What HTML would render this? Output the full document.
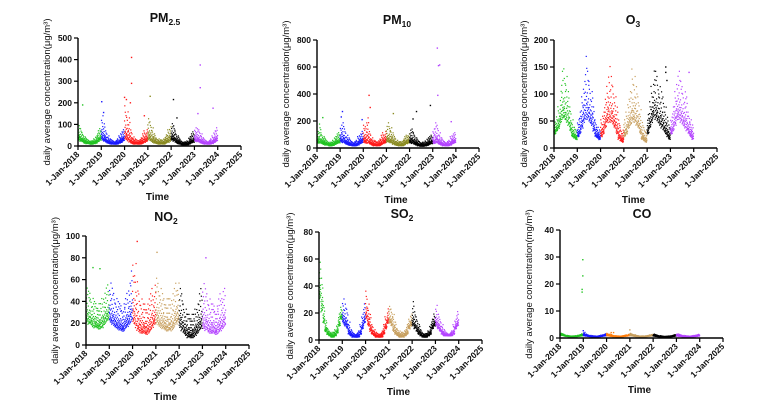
<!DOCTYPE html>
<html><head><meta charset="utf-8">
<style>
body{margin:0;background:#fff;width:776px;height:417px;overflow:hidden}
svg{display:block}
text{font-family:"Liberation Sans",sans-serif;fill:#111}
.tk{font-size:8.5px;font-weight:bold}
.ttl{font-size:12.5px;font-weight:bold}
.yl{font-size:9.5px}
.xl{font-size:10px;font-weight:bold}
</style></head><body>
<svg id="fig" width="776" height="417"></svg>
<script>
// ----- data (monthly low / high estimates per year 2018..2023, and outliers) -----
const years = [2018,2019,2020,2021,2022,2023];
const xTicks = ["1-Jan-2018","1-Jan-2019","1-Jan-2020","1-Jan-2021","1-Jan-2022","1-Jan-2023","1-Jan-2024","1-Jan-2025"];
const pm25Lo = [25,20,18,12,10,10,8,8,10,12,18,25, 25,20,15,12,10,8,8,8,8,12,15,22, 25,20,15,10,8,8,8,8,8,10,15,20, 25,20,15,12,10,8,8,8,8,12,15,20, 25,20,15,10,8,5,5,5,5,8,12,15, 20,18,15,12,10,8,8,8,8,10,15,20];
const pm25Hi = [100,85,65,45,35,30,25,25,35,50,75,85, 150,110,75,50,35,30,25,25,35,50,70,80, 200,170,140,80,45,35,30,30,40,60,75,80, 135,120,90,60,40,35,30,30,40,55,80,95, 110,100,70,50,35,25,20,20,25,45,60,70, 90,85,80,60,40,30,25,25,35,50,75,90];
const pm25Out = [[2018.2,190],[2019.02,205],[2019.1,155],[2020.0,225],[2020.08,215],[2020.3,410],[2020.3,290],[2020.25,200],[2020.85,140],[2021.1,230],[2022.1,215],[2022.25,130],[2023.25,375],[2023.25,270],[2023.8,175],[2023.15,150]];
const pm10Lo = [35,30,30,25,20,20,15,15,18,25,30,35, 40,35,30,25,20,18,15,15,15,20,30,35, 35,30,30,25,20,15,15,15,15,20,30,35, 40,35,35,25,20,18,15,15,15,20,30,35, 35,30,25,20,15,12,12,12,15,18,25,30, 30,30,30,25,20,15,15,15,15,20,30,35];
const pm10Hi = [130,190,120,90,70,55,45,45,60,90,110,120, 180,200,150,100,80,60,50,50,60,90,110,130, 180,200,240,130,80,60,55,55,70,100,120,130, 170,200,160,120,90,60,50,50,60,90,100,110, 140,150,120,80,60,50,45,45,55,80,90,100, 150,200,180,120,80,60,50,50,60,90,110,120];
const pm10Out = [[2018.25,225],[2019.1,270],[2019.05,230],[2019.95,210],[2020.25,390],[2020.3,300],[2021.3,255],[2022.15,215],[2022.3,270],[2022.9,315],[2023.2,740],[2023.25,610],[2023.3,615],[2023.22,390],[2023.8,195]];
const o3Lo = [25,30,35,45,50,50,45,40,30,20,18,15, 20,25,35,45,50,50,45,40,30,20,18,15, 20,25,35,45,45,45,40,35,25,15,12,10, 20,25,35,40,45,45,40,35,25,15,12,10, 25,35,45,55,50,45,40,35,30,25,20,15, 25,30,40,50,50,45,40,35,30,25,20,15];
const o3Hi = [50,60,80,110,150,155,140,110,80,55,40,35, 55,70,100,130,180,150,130,110,80,55,40,35, 55,70,95,120,160,140,120,100,80,55,40,35, 55,70,95,110,155,140,120,100,75,50,40,35, 65,90,120,150,150,140,120,110,100,80,60,45, 60,80,110,140,150,130,120,110,100,70,55,45];
const o3Out = [[2022.8,150],[2022.8,140],[2022.85,125],[2023.8,140]];
const no2Lo = [20,18,18,16,15,15,14,14,15,18,20,22, 20,18,16,15,14,13,12,12,14,16,18,20, 18,14,12,10,10,10,9,9,10,12,15,18, 18,16,15,14,13,12,12,12,13,15,18,20, 15,12,10,8,6,6,6,6,8,10,12,14, 14,12,12,10,10,10,9,9,10,12,14,16];
const no2Hi = [55,52,50,45,42,40,40,40,45,50,55,58, 60,55,50,45,42,40,38,40,45,50,60,72, 78,80,62,50,45,40,40,40,45,50,55,58, 65,60,55,50,45,45,45,45,50,55,60,60, 55,50,40,35,30,30,30,30,35,40,50,55, 60,55,50,45,40,40,38,38,45,50,52,55];
const no2Out = [[2018.3,71],[2018.6,70],[2020.2,95],[2021.05,85],[2023.15,80]];
const so2Lo = [30,20,12,6,4,3,2,2,3,5,10,15, 12,10,8,4,3,2,2,2,2,4,8,12, 15,10,6,4,3,2,2,2,2,4,8,12, 12,10,6,4,3,2,2,2,3,4,8,10, 10,8,6,4,3,2,2,2,3,4,8,10, 10,8,6,4,3,3,3,3,3,4,8,10];
const so2Hi = [60,48,30,15,9,7,6,6,8,12,20,25, 32,28,24,14,8,6,5,5,7,12,20,28, 38,28,20,12,8,6,5,5,7,12,18,24, 26,24,20,14,9,7,6,6,8,12,16,20, 30,22,18,12,8,6,5,5,7,12,16,20, 27,20,16,12,8,6,5,5,7,12,16,22];
const so2Out = [];
const coLo = [1.0,0.9,0.7,0.6,0.5,0.5,0.5,0.5,0.5,0.6,0.7,0.8, 0.8,0.7,0.6,0.5,0.4,0.4,0.4,0.4,0.5,0.6,0.7,0.8, 0.8,0.7,0.6,0.5,0.5,0.4,0.4,0.4,0.5,0.6,0.7,0.8, 0.8,0.7,0.6,0.5,0.5,0.4,0.4,0.4,0.5,0.6,0.7,0.8, 0.7,0.6,0.5,0.4,0.4,0.3,0.3,0.3,0.4,0.5,0.6,0.7, 0.7,0.6,0.5,0.4,0.4,0.4,0.4,0.4,0.4,0.5,0.6,0.7];
const coHi = [1.8,1.6,1.3,1.0,0.9,0.8,0.8,0.8,0.9,1.1,1.3,1.6, 2.2,1.5,1.2,1.0,0.9,0.8,0.8,0.8,0.9,1.1,1.3,1.6, 1.8,1.5,1.3,1.0,0.9,0.8,0.8,0.8,0.9,1.0,1.2,1.5, 1.8,1.5,1.3,1.0,0.9,0.8,0.8,0.8,0.9,1.0,1.2,1.4, 1.5,1.3,1.1,0.9,0.8,0.7,0.7,0.7,0.8,0.9,1.1,1.3, 1.6,1.4,1.2,1.0,0.9,0.8,0.8,0.8,0.9,1.0,1.2,1.4];
const coOut = [[2018.98,29],[2018.98,23],[2018.95,18],[2018.95,17],[2019.0,2.7],[2020.2,2],[2020.3,2],[2021.0,3]];

const colA = ["#22c322","#1a1aff","#ff1a1a","#8b8b22","#000000","#b444ff"];
const colB = ["#22c322","#1a1aff","#ff1a1a","#c8a060","#000000","#b444ff"];
const colC = ["#22c322","#1a1aff","#ff7f0e","#c8a060","#000000","#b444ff"];

const panels = [
 {name:"pm25",t:"PM",sub:"2.5",unit:"μg/m³",x0:78,x1:241,y0:146,y1:38,max:500,step:100,lo:pm25Lo,hi:pm25Hi,out:pm25Out,col:colA,tx:165,ty:22,ylx:50,tly:200},
 {name:"pm10",t:"PM",sub:"10",unit:"μg/m³",x0:317,x1:479,y0:148,y1:40,max:800,step:200,lo:pm10Lo,hi:pm10Hi,out:pm10Out,col:colA,tx:397,ty:24,ylx:289,tly:203},
 {name:"o3",t:"O",sub:"3",unit:"μg/m³",x0:554,x1:717,y0:148,y1:40,max:200,step:50,lo:o3Lo,hi:o3Hi,out:o3Out,col:colB,tx:633,ty:24,ylx:527,tly:203},
 {name:"no2",t:"NO",sub:"2",unit:"μg/m³",x0:86,x1:249,y0:345,y1:236,max:100,step:20,lo:no2Lo,hi:no2Hi,out:no2Out,col:colB,tx:166,ty:221,ylx:58,tly:400},
 {name:"so2",t:"SO",sub:"2",unit:"μg/m³",x0:319,x1:482,y0:340,y1:232,max:80,step:20,lo:so2Lo,hi:so2Hi,out:so2Out,col:colB,tx:402,ty:218,ylx:293,tly:395},
 {name:"co",t:"CO",sub:"",unit:"mg/m³",x0:560,x1:723,y0:338,y1:230,max:40,step:10,lo:coLo,hi:coHi,out:coOut,col:colC,tx:642,ty:218,ylx:532,tly:393}
];
// fixed jitter pattern (skewed towards the low end, as in the scatter)
const jit = [0.22,0.08,0.41,0.15,0.66,0.03,0.3,0.12,0.52,0.19,0.92,0.06,0.35,0.25,0.75,0.1];

const NS="http://www.w3.org/2000/svg";
const svg=document.getElementById('fig');
function mk(tag,attrs,parent){const e=document.createElementNS(NS,tag);for(const k in attrs)e.setAttribute(k,attrs[k]);(parent||svg).appendChild(e);return e;}

panels.forEach(p=>{
  const g=mk('g',{});
  
  
  const xs=yr=>p.x0+(yr-2018)/7*(p.x1-p.x0);
  const ys=v=>p.y0-Math.min(v,p.max)/p.max*(p.y0-p.y1);
  const tt=mk('text',{x:p.tx,y:p.ty,'text-anchor':'middle',class:'ttl'},g);
  
  
  tt.textContent=p.t;
  if(p.sub){const ts=mk('tspan',{'font-size':'8.5px',dy:'3'},tt);ts.textContent=p.sub;}
  const pts=mk('g',{},g);
  
  
  const N=jit.length;
  for(let m=0;m<p.lo.length;m++){
    const yi=Math.floor(m/12), c=p.col[yi];
    for(let d=0;d<N;d++){
      const yr=years[yi]+(m%12)/12+d/(12*N);
      const v=p.lo[m]+(p.hi[m]-p.lo[m])*jit[(d+m*5)%N];
      mk('rect',{x:(xs(yr)-0.6).toFixed(2),y:(ys(v)-0.6).toFixed(2),width:1.2,height:1.2,fill:c},pts);
    }
  }
  p.out.forEach(o=>{
    const yi=Math.min(5,Math.floor(o[0]-2018));
    mk('rect',{x:(xs(o[0])-0.7).toFixed(2),y:(ys(o[1])-0.7).toFixed(2),width:1.4,height:1.4,fill:p.col[yi]},pts);
  });
  const ax=mk('path',{d:`M${p.x0},${p.y1} V${p.y0} H${p.x1}`,stroke:'#000','stroke-width':1.4,fill:'none'},g);
  
  
  for(let v=0;v<=p.max;v+=p.step){
    mk('line',{x1:p.x0-4,x2:p.x0,y1:ys(v),y2:ys(v),stroke:'#000','stroke-width':1.2},g);
    const t=mk('text',{x:p.x0-6,y:ys(v)+3,'text-anchor':'end',class:'tk'},g);
    
    
    t.textContent=v;
  }
  xTicks.forEach((lab,i)=>{
    const x=xs(2018+i);
    mk('line',{x1:x,x2:x,y1:p.y0,y2:p.y0+4,stroke:'#000','stroke-width':1.2},g);
    const t=mk('text',{x:x+2,y:p.y0+9,'text-anchor':'end',class:'tk',transform:`rotate(-45 ${x+2} ${p.y0+9})`},g);
    
    
    t.textContent=lab;
  });
  const yl=mk('text',{x:p.ylx,y:(p.y0+p.y1)/2,'text-anchor':'middle',class:'yl',transform:`rotate(-90 ${p.ylx} ${(p.y0+p.y1)/2})`},g);
  
  
  yl.textContent='daily average concentration('+p.unit+')';
  const xl=mk('text',{x:(p.x0+p.x1)/2-2,y:p.tly,'text-anchor':'middle',class:'xl'},g);
  
  
  xl.textContent='Time';
});
</script>
</body></html>
